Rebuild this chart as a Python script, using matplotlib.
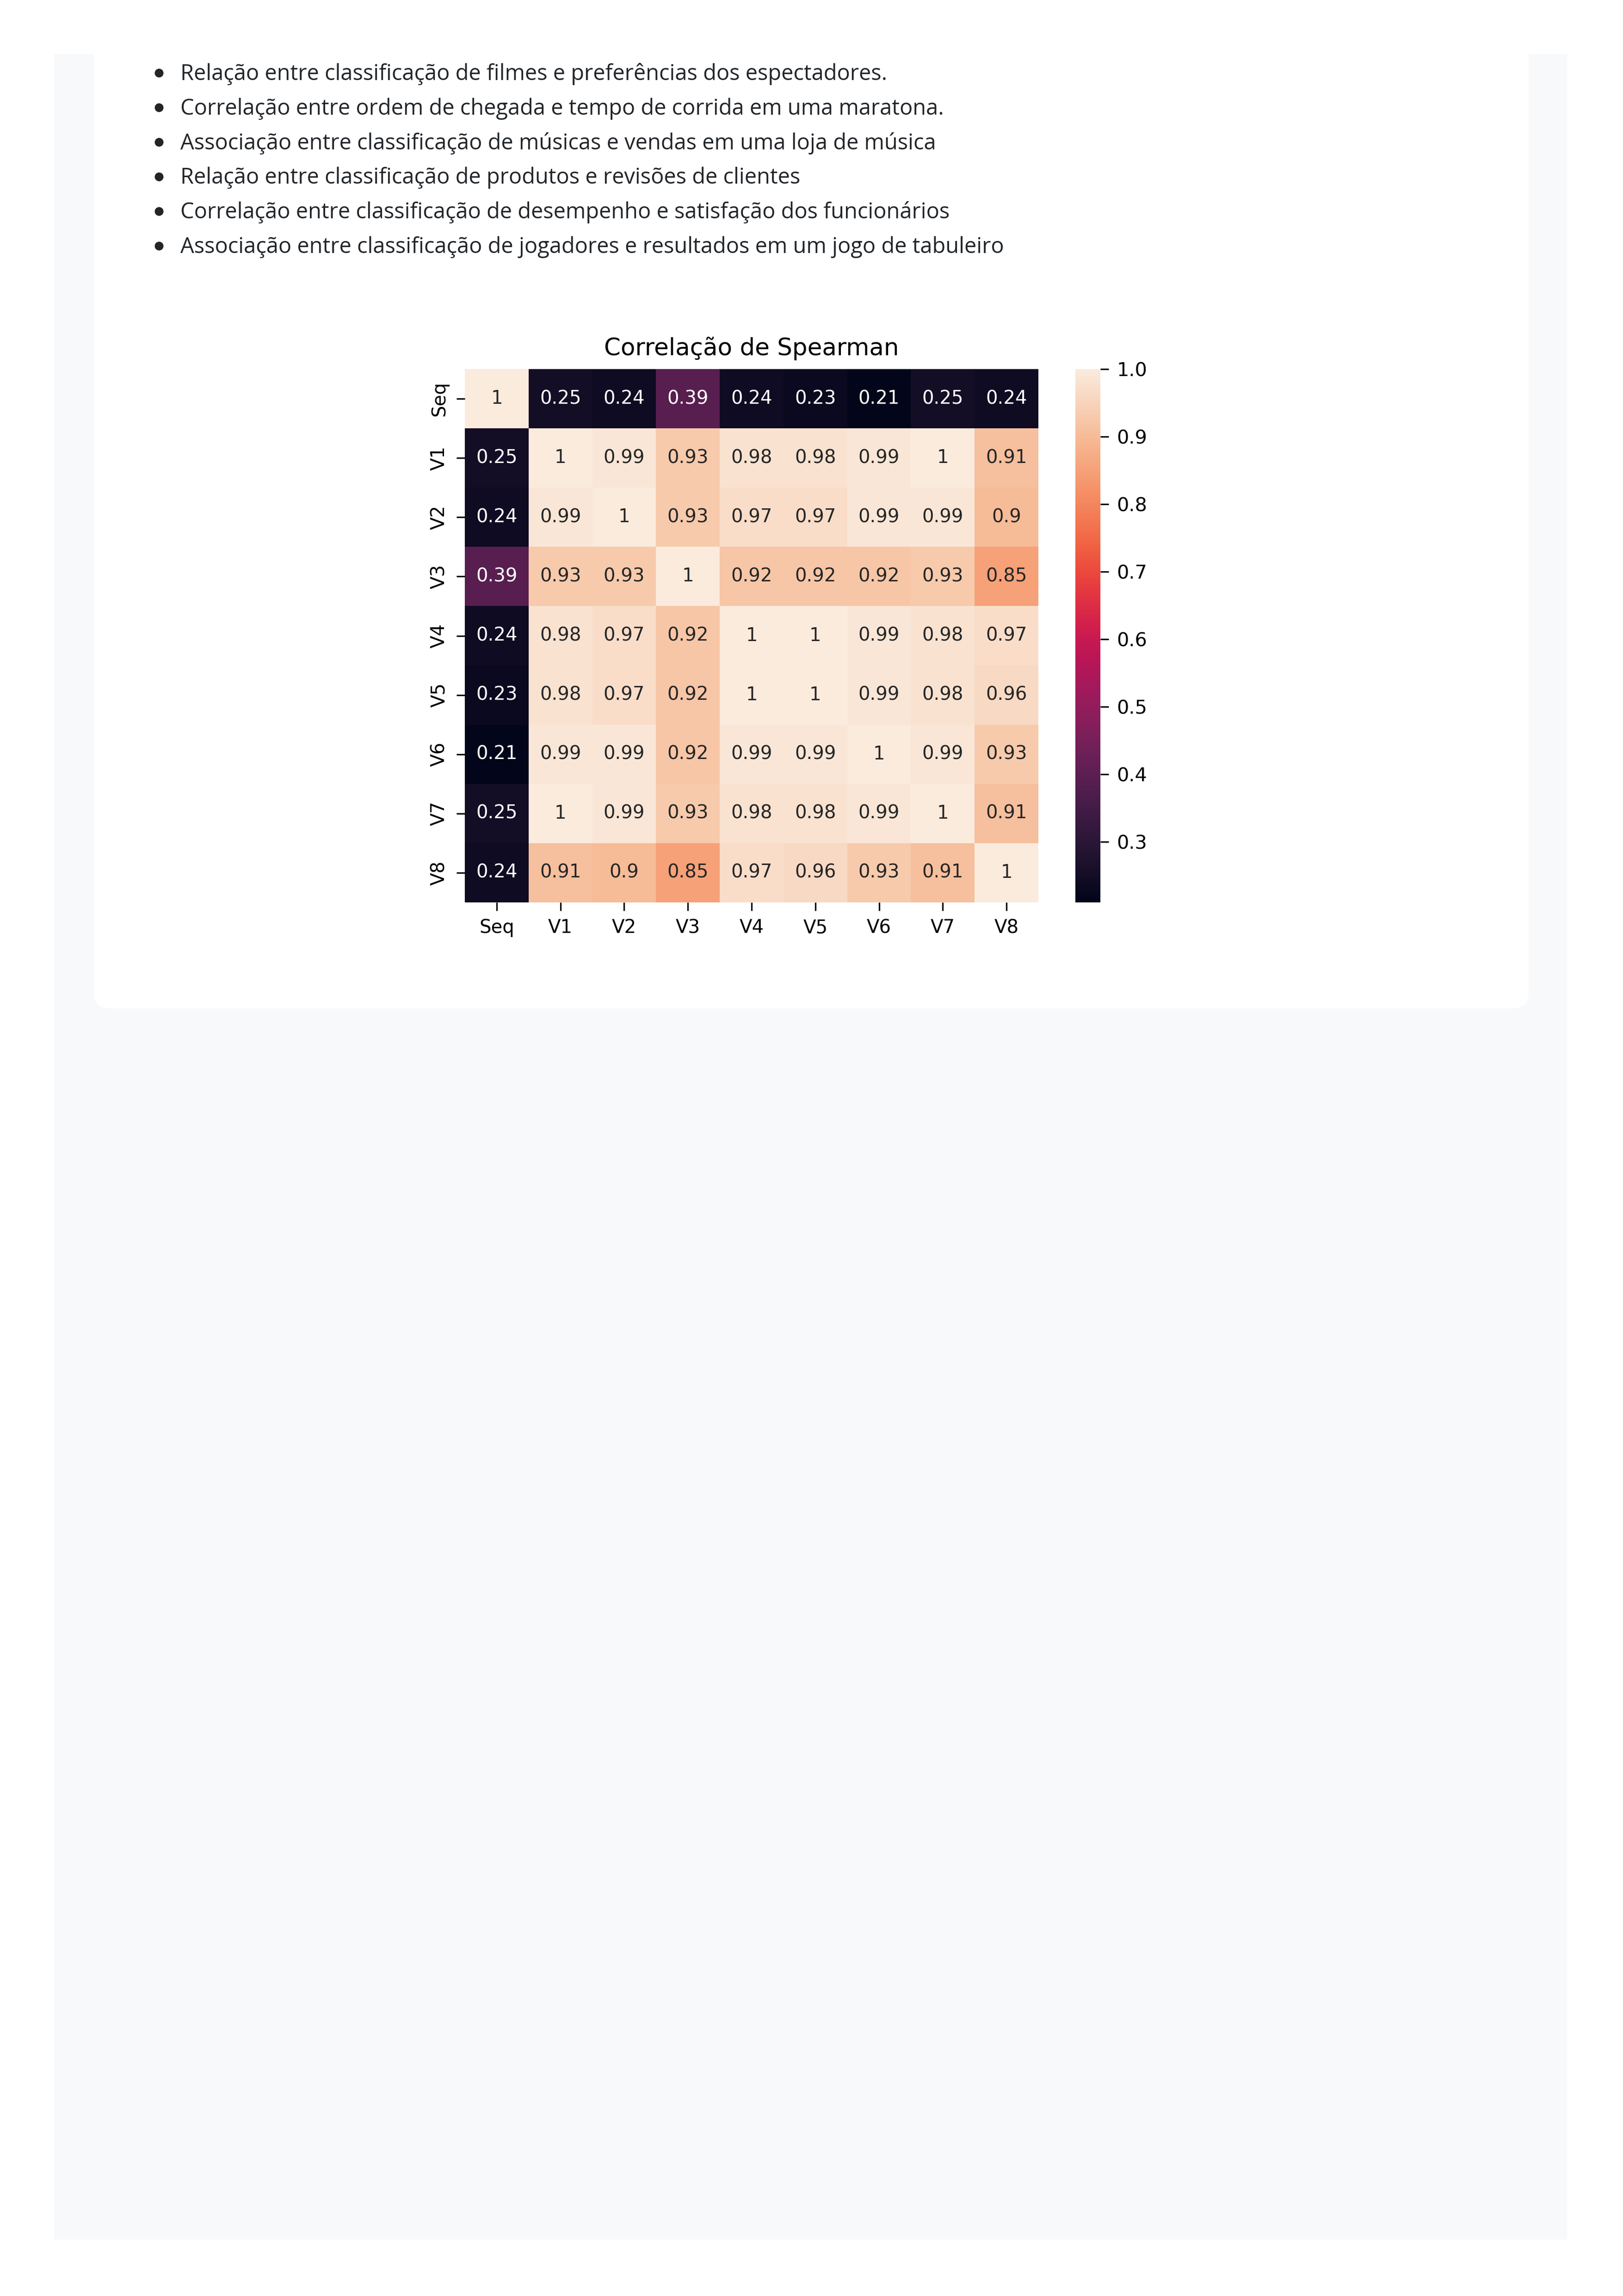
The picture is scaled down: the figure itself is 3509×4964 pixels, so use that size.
import numpy as np
import pandas as pd
import matplotlib
matplotlib.use("Agg")
import matplotlib.pyplot as plt
from matplotlib.patches import Rectangle, FancyBboxPatch, Ellipse
import seaborn as sns

# page text
bullets = [
    "Relação entre classificação de filmes e preferências dos espectadores.",
    "Correlação entre ordem de chegada e tempo de corrida em uma maratona.",
    "Associação entre classificação de músicas e vendas em uma loja de música",
    "Relação entre classificação de produtos e revisões de clientes",
    "Correlação entre classificação de desempenho e satisfação dos funcionários",
    "Associação entre classificação de jogadores e resultados em um jogo de tabuleiro",
]

# spearman matrix
labels = ["Seq", "V1", "V2", "V3", "V4", "V5", "V6", "V7", "V8"]
row_seq = [1, 0.25, 0.24, 0.39, 0.24, 0.23, 0.21, 0.25, 0.24]
row_v1 = [0.25, 1, 0.99, 0.93, 0.98, 0.98, 0.99, 1, 0.91]
row_v2 = [0.24, 0.99, 1, 0.93, 0.97, 0.97, 0.99, 0.99, 0.9]
row_v3 = [0.39, 0.93, 0.93, 1, 0.92, 0.92, 0.92, 0.93, 0.85]
row_v4 = [0.24, 0.98, 0.97, 0.92, 1, 1, 0.99, 0.98, 0.97]
row_v5 = [0.23, 0.98, 0.97, 0.92, 1, 1, 0.99, 0.98, 0.96]
row_v6 = [0.21, 0.99, 0.99, 0.92, 0.99, 0.99, 1, 0.99, 0.93]
row_v7 = [0.25, 1, 0.99, 0.93, 0.98, 0.98, 0.99, 1, 0.91]
row_v8 = [0.24, 0.91, 0.9, 0.85, 0.97, 0.96, 0.93, 0.91, 1]

corr = pd.DataFrame([row_seq, row_v1, row_v2, row_v3, row_v4,
                     row_v5, row_v6, row_v7, row_v8],
                    index=labels, columns=labels)

W, H = 3509, 4964
fig = plt.figure(figsize=(W / 100, H / 100), dpi=100)
fig.patch.set_facecolor("white")


def box(x0, y0, x1, y1):
    # pixel box (top-left origin) -> figure fraction rect
    return [x0 / W, 1 - y1 / H, (x1 - x0) / W, (y1 - y0) / H]


# grey page panel + white card
fig.add_artist(Rectangle((117 / W, 1 - 4842 / H), (3388 - 117) / W,
                         (4842 - 117) / H, transform=fig.transFigure,
                         facecolor="#f8f9fa", edgecolor="none", zorder=-2))
fig.add_artist(FancyBboxPatch((203 / W, 1 - 2180 / H), (3305 - 203) / W,
                              2300 / H, transform=fig.transFigure,
                              boxstyle="round,pad=0,rounding_size=0.009",
                              mutation_aspect=W / H,
                              facecolor="white", edgecolor="none", zorder=-1))

base = 173
step = 74.8
for i, line in enumerate(bullets):
    yb = base + i * step
    fig.add_artist(Ellipse((344 / W, 1 - (yb - 15) / H), 19 / W, 19 / H,
                           transform=fig.transFigure, facecolor="#212529",
                           edgecolor="none"))
    fig.text(390 / W, 1 - yb / H, line, ha="left", va="baseline",
             fontsize=33.8, family=["Open Sans", "DejaVu Sans"],
             color="#212529")

# heatmap, scaled-up seaborn defaults
k = 2.9
plt.rcParams.update({
    "font.size": 10 * k,
    "xtick.labelsize": 10 * k,
    "ytick.labelsize": 10 * k,
    "axes.titlesize": 12.8 * k,
    "xtick.major.size": 4.5 * k,
    "ytick.major.size": 4.5 * k,
    "xtick.major.width": 0.8 * k,
    "ytick.major.width": 0.8 * k,
    "xtick.major.pad": 4.2 * k,
    "ytick.major.pad": 4.2 * k,
    "axes.titlepad": 7.5 * k,
})

ax = fig.add_axes(box(1005, 798, 2245, 1951))
cax = fig.add_axes(box(2325, 798, 2379, 1951))
ax.set_zorder(2)
cax.set_zorder(2)
sns.heatmap(corr, annot=True, ax=ax, cbar_ax=cax)
ax.set_title("Correlação de Spearman")
ax.set_yticklabels(labels, rotation=90, va="center")
ax.set_xticklabels(labels, rotation=0)
cax.tick_params(labelsize=10.3 * k, size=4.5 * k, width=0.8 * k, pad=4.2 * k)

fig.savefig("out.png", dpi=100, facecolor="white")
